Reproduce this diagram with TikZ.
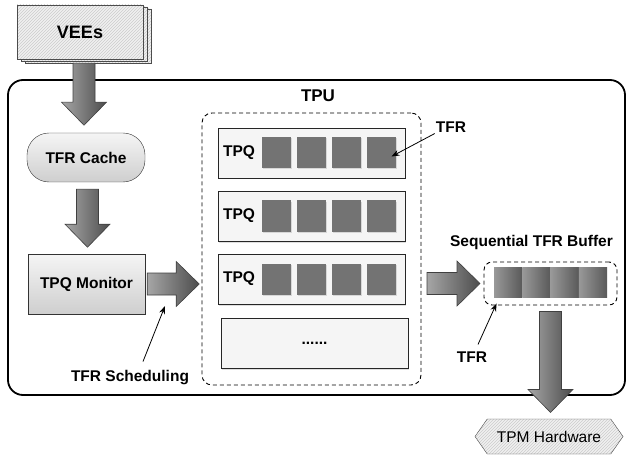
\documentclass[tikz,border=0pt]{standalone}
\usepackage{fontspec}
\setmainfont{Liberation Sans}
\usetikzlibrary{arrows.meta,positioning,shapes.symbols,shadows,patterns,calc}

\begin{document}
\begin{tikzpicture}[
    x=1pt, y=-1pt,
    lbl/.style={font=\fontsize{15.5}{18}\selectfont\bfseries, inner sep=1pt},
    hatchnode/.style={draw=black!70, preaction={fill=gray!12}, pattern=north east lines, pattern color=gray!40},
    boxnode/.style={draw=black!80, top color=gray!8, bottom color=gray!38, lbl},
    dashbox/.style={draw=black, line width=0.9pt, dash pattern=on 4pt off 3pt},
    rownode/.style={draw=black!85, fill=gray!8, minimum width=187, minimum height=50,
        drop shadow={shadow xshift=1pt, shadow yshift=-1.5pt, opacity=0.25}},
    tfrnode/.style={fill=black!55, minimum width=29, minimum height=31, inner sep=0pt,
        drop shadow={shadow xshift=1pt, shadow yshift=-1pt, opacity=0.25}},
    cellnode/.style={left color=black!40, right color=black!65, minimum width=28.25, minimum height=30, inner sep=0pt},
    pointer/.style={-{Stealth[length=8pt,width=6pt]}, line width=0.8pt},
    bigarrow/.pic={\shade[draw=black!75, line width=0.6pt, left color=black!35, right color=black!70]
        (0,-11) -- (#1-23,-11) -- (#1-23,-22.5) -- (#1,0) -- (#1-23,22.5) -- (#1-23,11) -- (0,11) -- cycle;}
]
\useasboundingbox (0,0) rectangle (626,457);

% Host box
\draw[line width=1.8pt, rounded corners=15] (8,80) rectangle (625,395);

% Stacked VEEs
\foreach \d in {8,4}
    \node[hatchnode, minimum width=126, minimum height=54] at (80+\d,32+\d/2) {};
\node[hatchnode, lbl, font=\fontsize{18}{21}\selectfont\bfseries, minimum width=126, minimum height=54] (vees) at (80,32) {VEEs};

% Left column
\node[boxnode, rounded corners=22, minimum width=118, minimum height=49] (cache) at (86,157.5) {TFR Cache};
\node[boxnode, minimum width=117, minimum height=60] (monitor) at (86.5,284) {TPQ Monitor};

% TPU with its queues
\node[dashbox, rounded corners=10, minimum width=219, minimum height=272] (tpu) at (311.5,249) {};
\node[lbl, font=\fontsize{17}{20}\selectfont\bfseries] (tpulabel) at (318,96) {TPU};

\foreach \r/\y in {1/153, 2/216, 3/279} {
    \node[rownode] (row\r) at (311.5,\y) {};
    \node[lbl] (tpq\r) at (239,\y) {TPQ};
    \foreach \c/\x in {1/276.5, 2/311.5, 3/346.5, 4/381.5}
        \node[tfrnode] (q\r\c) at (\x,\y) {};
}
\node[rownode, lbl] (rowmore) at (314.5,343) {......};

% Sequential buffer
\node[lbl] (buflabel) at (531.5,242) {Sequential TFR Buffer};
\node[dashbox, rounded corners=8, minimum width=133, minimum height=43] (buf) at (550.5,283.5) {};
\foreach \c in {1,...,4}
    \node[cellnode] (cell\c) at (494+28.25*\c-14.125,282) {};

% TPM Hardware
\node[hatchnode, shape=signal, signal to=east and west, signal pointer angle=110,
    minimum width=148, minimum height=35, font=\fontsize{15.5}{18}\selectfont] (hw) at (549,436.5) {TPM Hardware};

% Block arrows
\pic[rotate=-90] at ([xshift=4pt,yshift=-4pt]vees.south) {bigarrow=62};
\pic[rotate=-90] at ([xshift=1.5pt,yshift=-7pt]cache.south) {bigarrow=58};
\pic at ([xshift=2pt]monitor.east) {bigarrow=52};
\pic at (427,283.5) {bigarrow=53};
\pic[rotate=-90] at ([yshift=-6pt]buf.south) {bigarrow=101};

% Labels with pointers
\node[lbl] (tfrtop) at (451,127) {TFR};
\draw[pointer] (tfrtop.south west) -- ([xshift=10pt,yshift=-3.5pt]q14.center);

\node[lbl] (tfrbot) at (472,357) {TFR};
\draw[pointer] ([xshift=6pt,yshift=6pt]tfrbot.north) -- ([xshift=13pt,yshift=2pt]buf.south west);

\node[lbl] (sched) at (130,378) {TFR Scheduling};
\coordinate (schedtip) at (165,306);
\draw[pointer] ([xshift=13pt,yshift=8pt]sched.north) -- (schedtip);

\end{tikzpicture}
\end{document}
